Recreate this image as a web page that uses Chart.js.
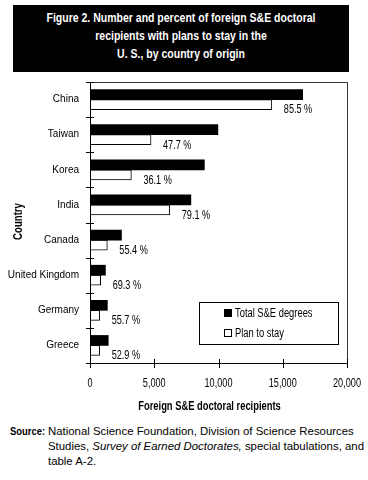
<!DOCTYPE html>
<html>
<head>
<meta charset="utf-8">
<script src="https://cdn.jsdelivr.net/npm/chart.js@4/dist/chart.umd.min.js"></script>
<style>
  html, body { margin: 0; padding: 0; background: #fff; }
  body { width: 368px; height: 480px; position: relative; overflow: hidden; }
  #title {
    position: absolute; left: 13px; top: 5px; width: 336px; height: 67px;
    background: #000; color: #fff; text-align: center; overflow: hidden;
    box-sizing: border-box; padding-top: 4px;
  }
  #title .in {
    width: 400px; margin-left: -32px; transform: scaleX(0.84); transform-origin: 50% 0;
    font: bold 12.5px 'Liberation Sans', Arial, sans-serif; line-height: 18px; white-space: nowrap;
  }
  #wrap { position: absolute; left: 0; top: 74px; width: 368px; height: 345px; }
  #source {
    position: absolute; left: 10px; top: 424px; width: 358px;
    font: 11.4px 'Liberation Sans', Arial, sans-serif; line-height: 15px; color: #000;
    display: flex; white-space: nowrap;
  }
  #source .lab { width: 38px; flex: none; }
  #source .lab span { display: inline-block; font-weight: bold; font-size: 11.5px; transform: scaleX(0.82); transform-origin: 0 0; }
</style>
</head>
<body>
<div id="title"><div class="in">Figure 2. Number and percent of foreign S&amp;E doctoral<br>recipients with plans to stay in the<br>U. S., by country of origin</div></div>
<div id="wrap"><canvas id="c" width="368" height="345"></canvas></div>
<div id="source"><span class="lab"><span>Source:</span></span><span>National Science Foundation, Division of Science Resources<br>Studies, <i>Survey of Earned Doctorates,</i> special tabulations, and<br>table A-2.</span></div>
<script>
const categories = ["China", "Taiwan", "Korea", "India", "Canada", "United Kingdom", "Germany", "Greece"];
const totalDegrees = [16550, 9950, 8900, 7850, 2450, 1200, 1350, 1420];
const planToStay = [14150, 4750, 3220, 6210, 1350, 830, 750, 750];
const percentStay = [85.5, 47.7, 36.1, 79.1, 55.4, 69.3, 55.7, 52.9];
const xTicks = [0, 5000, 10000, 15000, 20000];
const seriesNames = ["Total S&E degrees", "Plan to stay"];
const xTitle = "Foreign S&E doctoral recipients";
const yTitle = "Country";

const REG = "'Liberation Sans', Arial, sans-serif";

function narrowText(ctx, text, x, y, font, align, sx, rot) {
  ctx.save();
  ctx.font = font;
  ctx.textAlign = align;
  ctx.textBaseline = 'middle';
  ctx.translate(x, y);
  if (rot) ctx.rotate(rot);
  ctx.scale(sx, 1);
  ctx.fillText(text, 0, 0);
  ctx.restore();
}

const decor = {
  id: 'decor',
  afterDatasetsDraw(chart) {
    const ctx = chart.ctx;
    const a = chart.chartArea;
    const xs = chart.scales.x, ys = chart.scales.y;
    ctx.save();
    ctx.lineWidth = 1;
    // frame top/right
    ctx.strokeStyle = '#333';
    ctx.beginPath();
    ctx.moveTo(Math.round(a.left) + 0.5, Math.round(a.top) + 0.5);
    ctx.lineTo(Math.round(a.right) + 0.5, Math.round(a.top) + 0.5);
    ctx.lineTo(Math.round(a.right) + 0.5, Math.round(a.bottom) + 0.5);
    ctx.stroke();
    // axes
    ctx.strokeStyle = '#000';
    ctx.beginPath();
    ctx.moveTo(Math.round(a.left) + 0.5, Math.round(a.top) + 0.5);
    ctx.lineTo(Math.round(a.left) + 0.5, Math.round(a.bottom) + 0.5);
    ctx.lineTo(Math.round(a.right) + 0.5, Math.round(a.bottom) + 0.5);
    ctx.stroke();
    // x ticks crossing the axis
    ctx.beginPath();
    xTicks.forEach(v => {
      const px = Math.round(xs.getPixelForValue(v)) + 0.5;
      ctx.moveTo(px, Math.round(a.bottom) - 4);
      ctx.lineTo(px, Math.round(a.bottom) + 5);
    });
    // y ticks at category boundaries
    for (let i = 0; i <= categories.length; i++) {
      const py = Math.round(ys.getPixelForValue(i - 0.5)) + 0.5;
      ctx.moveTo(Math.round(a.left) - 4, py);
      ctx.lineTo(Math.round(a.left) + 4, py);
    }
    ctx.stroke();

    ctx.fillStyle = '#000';
    // x tick labels
    xTicks.forEach(v => {
      narrowText(ctx, v.toLocaleString('en-US'), xs.getPixelForValue(v), a.bottom + 20.5, '12px ' + REG, 'center', 0.76);
    });
    // axis titles
    narrowText(ctx, xTitle, (a.left + a.right) / 2 - 9, a.bottom + 44, 'bold 12px ' + REG, 'center', 0.78);
    narrowText(ctx, yTitle, 19, (a.top + a.bottom) / 2 - 1, 'bold 12px ' + REG, 'center', 0.8, -Math.PI / 2);

    // percent labels
    const meta = chart.getDatasetMeta(1);
    meta.data.forEach((bar, i) => {
      narrowText(ctx, percentStay[i].toFixed(1) + ' %', bar.x + 12, bar.y + 5.5, '12px ' + REG, 'left', 0.76);
    });

    // legend box
    const lx = Math.round(a.left) + 109, ly = Math.round(a.top) + 220, lw = 139, lh = 42;
    ctx.strokeStyle = '#000';
    ctx.strokeRect(lx + 0.5, ly + 0.5, lw, lh);
    seriesNames.forEach((name, k) => {
      const cy = ly + 11 + k * 20;
      const ds = chart.data.datasets[k];
      ctx.fillStyle = ds.backgroundColor;
      ctx.fillRect(lx + 25, cy - 4, 8, 8);
      ctx.strokeStyle = '#000';
      ctx.strokeRect(lx + 25.5, cy - 3.5, 7, 7);
      ctx.fillStyle = '#000';
      narrowText(ctx, name, lx + 36, cy + 0.5, '12px ' + REG, 'left', 0.78);
    });
    ctx.restore();
  }
};

new Chart(document.getElementById('c'), {
  type: 'bar',
  data: {
    labels: categories,
    datasets: [
      { label: seriesNames[0], data: totalDegrees, backgroundColor: '#000', borderColor: '#000', borderWidth: 0, barThickness: 10 },
      { label: seriesNames[1], data: planToStay, backgroundColor: '#fff', borderColor: '#000', borderWidth: 1, barThickness: 10, borderSkipped: 'left' }
    ]
  },
  options: {
    indexAxis: 'y',
    responsive: false,
    animation: false,
    devicePixelRatio: 1,
    layout: { padding: { top: 8, right: 21, left: 0, bottom: 0 } },
    plugins: { legend: { display: false }, tooltip: { enabled: false }, title: { display: false } },
    scales: {
      x: {
        min: 0, max: 20000,
        afterFit(s) { s.height = 56; s.paddingLeft = 0; s.paddingRight = 0; s.paddingTop = 0; s.paddingBottom = 0; },
        grid: { display: false, drawTicks: false },
        border: { display: false },
        ticks: { display: false, stepSize: 5000 },
        title: { display: false }
      },
      y: {
        afterFit(s) { s.width = 90; s.paddingTop = 0; s.paddingBottom = 0; s.paddingLeft = 0; s.paddingRight = 0; },
        grid: { display: false, drawTicks: false },
        border: { display: false },
        ticks: { color: '#000', padding: 11, font: { family: REG, size: 10 } },
        title: { display: false }
      }
    }
  },
  plugins: [decor]
});
</script>
</body>
</html>
